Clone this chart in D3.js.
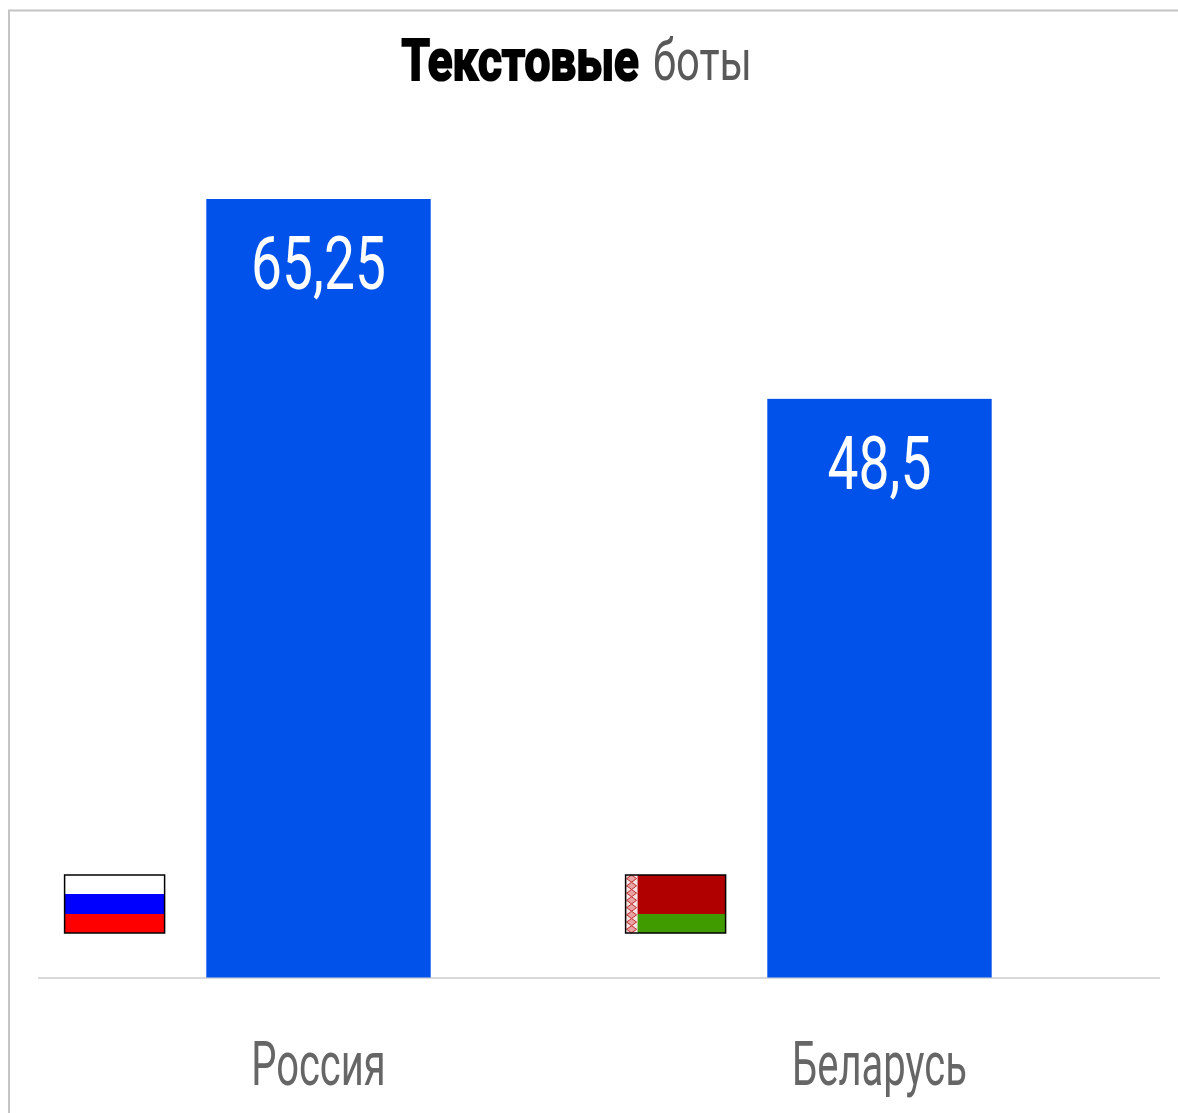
<!DOCTYPE html>
<html lang="ru">
<head>
<meta charset="utf-8">
<script src="https://cdn.jsdelivr.net/npm/d3@7/dist/d3.min.js"></script>
<style>
  html, body { margin: 0; padding: 0; background: #fff; overflow: hidden; }
  svg { display: block; }
  text { font-family: "Liberation Sans Narrow", "Roboto", sans-serif; }
</style>
</head>
<body>
<svg id="chart" width="1178" height="1113"></svg>
<script>
const countries = ["Россия", "Беларусь"];
const scores = [65.25, 48.5];
const scoreLabels = ["65,25", "48,5"];
const titleBold = "Текстовые";
const titleLight = "боты";
const russiaStripes = ["#ffffff", "#0000ff", "#ff0000"];
const belarusStripes = ["#b00000", "#b00000", "#3f9b00"];

const svg = d3.select("#chart");
const baseY = 977.5, topY = 199;

const x = d3.scaleBand().domain(countries).range([38, 1160]).paddingInner(0.6).paddingOuter(0.3);
const y = d3.scaleLinear().domain([0, 65.25]).range([baseY, topY]);

// Frame: only the top and left edges fall inside the canvas
svg.append("path")
  .attr("d", "M9,1113V10.5H1178")
  .attr("fill", "none").attr("stroke", "#c4c4c4").attr("stroke-width", 2);

// Headline, in a heavy and a light part, squeezed horizontally
svg.append("text")
  .attr("font-size", 58).attr("font-weight", 700)
  .attr("fill", "#000").attr("stroke", "#000").attr("stroke-width", 2.2)
  .attr("transform", "translate(401.5,80) scale(0.79,1)")
  .text(titleBold);
svg.append("text")
  .attr("font-size", 58).attr("fill", "#595959")
  .attr("transform", "translate(653,80) scale(0.72,1)")
  .text(titleLight);

// Axis baseline
svg.append("line")
  .attr("x1", 38).attr("x2", 1160).attr("y1", 978).attr("y2", 978)
  .attr("stroke", "#d9d9d9").attr("stroke-width", 2);

// Bars
svg.selectAll("rect.bar").data(countries).join("rect")
  .attr("class", "bar")
  .attr("x", d => x(d))
  .attr("width", x.bandwidth())
  .attr("y", (d, i) => y(scores[i]))
  .attr("height", (d, i) => baseY - y(scores[i]))
  .attr("fill", "#0052ea");

// Value labels inside the bars
svg.selectAll("text.value").data(countries).join("text")
  .attr("class", "value")
  .attr("text-anchor", "middle")
  .attr("font-size", 74)
  .attr("fill", "#fff")
  .attr("transform", (d, i) => `translate(${x(d) + x.bandwidth() / 2},${y(scores[i]) + 90}) scale(0.745,1)`)
  .text((d, i) => scoreLabels[i]);

// Category labels
svg.selectAll("text.cat").data(countries).join("text")
  .attr("class", "cat")
  .attr("text-anchor", "middle")
  .attr("font-size", 62)
  .attr("fill", "#666666")
  .attr("transform", d => `translate(${x(d) + x.bandwidth() / 2},1085) scale(0.645,1)`)
  .text(d => d);

// Flags to the left of each bar
const flagW = 100, flagH = 58, flagY = 875;
const flagX = d => x(d) - 141.7;

function drawFlag(country, stripes, ornament) {
  const g = svg.append("g").attr("transform", `translate(${flagX(country)},${flagY})`);
  const sy = d3.scaleBand().domain(d3.range(stripes.length)).range([0, flagH]);
  g.selectAll("rect").data(stripes).join("rect")
    .attr("x", 0).attr("width", flagW)
    .attr("y", (d, i) => sy(i)).attr("height", (d, i) => sy.bandwidth() + (i < stripes.length - 1 ? 0.5 : 0))
    .attr("fill", d => d)
    .attr("shape-rendering", "crispEdges");
  if (ornament) {
    g.append("rect").attr("width", 12).attr("height", flagH).attr("fill", "#f6e3e3");
    const rows = d3.range(0, flagH, 7.25);
    g.selectAll("path.orn").data(rows).join("path")
      .attr("class", "orn")
      .attr("d", d => `M6,${d}L11,${d + 3.6}L6,${d + 7.2}L1,${d + 3.6}Z`)
      .attr("fill", "#e9a3a3").attr("stroke", "#c22b2b").attr("stroke-width", 1);
  }
  g.append("rect").attr("width", flagW).attr("height", flagH)
    .attr("fill", "none").attr("stroke", "#000").attr("stroke-width", 1.5);
}
drawFlag("Россия", russiaStripes, false);
drawFlag("Беларусь", belarusStripes, true);
</script>
</body>
</html>
